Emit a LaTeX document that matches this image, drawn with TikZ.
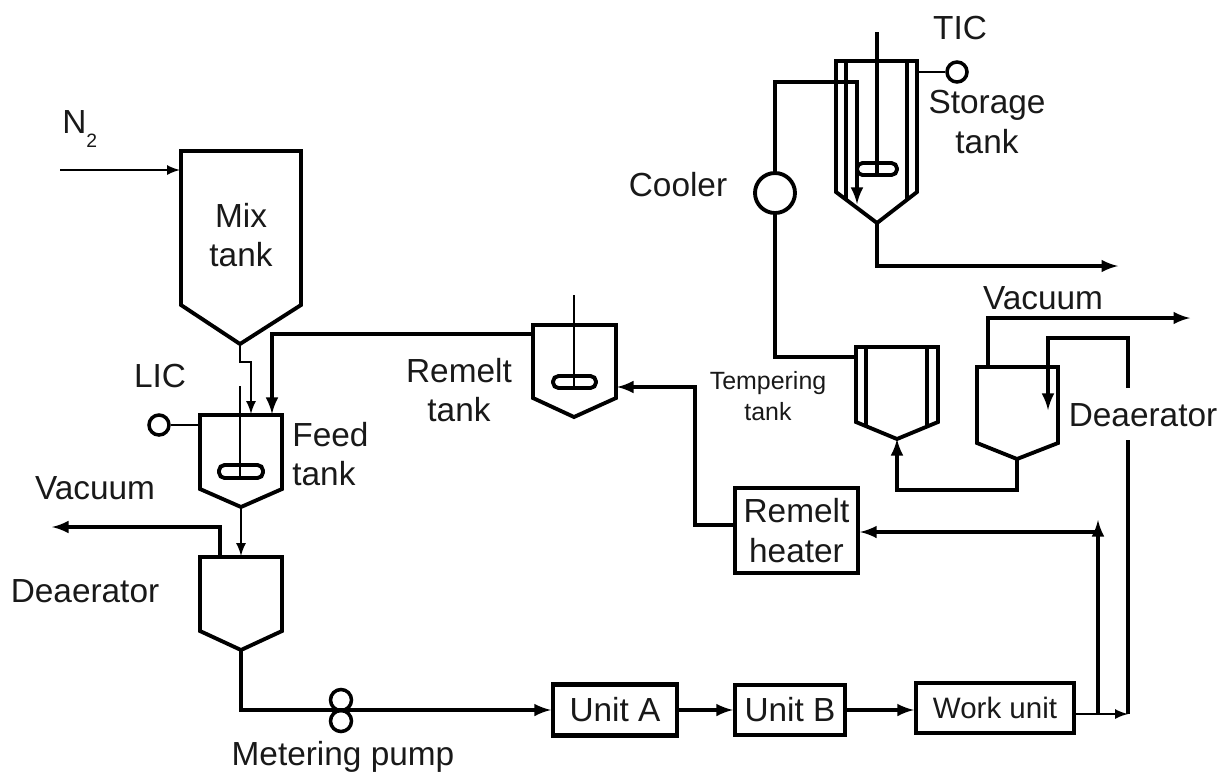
\documentclass[tikz,border=0pt]{standalone}
\usepackage{fontspec}
\setmainfont{Liberation Sans}
\usetikzlibrary{arrows,positioning,calc}
\tikzset{
	lbl/.style={font=\fontsize{19}{22.6}\selectfont, inner sep=0pt, text=black!90},
	vessel/.style={line width=2.2pt, line join=miter},
	pipe/.style={line width=2.2pt, line join=miter, >=latex},
	thinpipe/.style={line width=1.5pt, line join=miter, >=latex},
	unitbox/.style={draw, line width=2.4pt, inner sep=0pt, text=black!90, font=\fontsize{19}{22.6}\selectfont},
	gauge/.style={draw, circle, line width=2pt, inner sep=0pt, minimum size=0.4cm},
	paddle/.style={line width=2.2pt, rounded corners=0.11cm},
}
\begin{document}
\begin{tikzpicture}[x=0.02cm,y=-0.02cm]
	\useasboundingbox (0,0) rectangle (1230,775);

	% vessels
	\draw[vessel] (181,151) -- (301,151) -- (301,305) -- (240,344) -- (181,305) -- cycle;
	\draw[vessel] (200,415) -- (282,415) -- (282,489) -- (241,507) -- (200,489) -- cycle;
	\draw[vessel] (200,557) -- (282,557) -- (282,631) -- (241,650) -- (200,631) -- cycle;
	\draw[vessel] (533,325) -- (616,325) -- (616,398) -- (574,417) -- (533,398) -- cycle;
	\draw[vessel] (856,347) -- (938,347) -- (938,422) -- (897,439) -- (856,422) -- cycle;
	\draw[vessel] (977,367) -- (1058,367) -- (1058,443) -- (1017,459) -- (977,443) -- cycle;
	\draw[vessel] (836,61) -- (917,61) -- (917,192) -- (877,223) -- (836,192) -- cycle;
	% jackets
	\draw[vessel] (866,347) -- (866,426) (927,347) -- (927,426);
	\draw[vessel] (846,61) -- (846,199) (907,61) -- (907,199);
	% agitators
	\draw[thinpipe] (240,386) -- (240,478);
	\draw[paddle] (219,465) rectangle (263,478);
	\draw[thinpipe] (574,295) -- (574,388);
	\draw[paddle] (553,376) rectangle (596,388);
	\draw[pipe] (877,32) -- (877,175);
	\draw[paddle] (857,163) rectangle (897,175);

	% equipment
	\node[unitbox, minimum width=2.48cm, minimum height=1.02cm] (unita) at (615,710) {Unit A};
	\node[unitbox, minimum width=2.2cm, minimum height=1cm] (unitb) at (790,710) {Unit B};
	\node[unitbox, minimum width=3.16cm, minimum height=1cm, font=\fontsize{16.8}{20}\selectfont] (workunit) at (995,708) {Work unit};
	\node[unitbox, minimum width=2.46cm, minimum height=1.7cm, align=center] (heater) at (796.5,530.5) {Remelt\\[0.5pt]heater};
	\node[gauge] (lic) at (159,425) {};
	\node[gauge] (tic) at (957,72) {};
	\node[draw, circle, line width=2.2pt, inner sep=0pt, minimum size=0.8cm] (cooler) at (775,193) {};
	\node[gauge, minimum size=0.42cm] (pumpa) at (341,700) {};
	\node[gauge, minimum size=0.42cm] (pumpb) at (341,721) {};

	% connection points
	\coordinate (nin) at (60,170);
	\coordinate (mixin) at (180,170);
	\coordinate (mixout) at (240,344);
	\coordinate (feedin) at (251,414);
	\coordinate (feedret) at (272,414);
	\coordinate (feedout) at (241,507);
	\coordinate (deain) at (241,556);
	\coordinate (deatop) at (220,557);
	\coordinate (deaout) at (241,650);
	\coordinate (vacleft) at (52,527);
	\coordinate (remeltin) at (617,387);
	\coordinate (remeltout) at (533,334);
	\coordinate (workout) at (1075,714);
	\coordinate (split) at (1098,714);
	\coordinate (junction) at (1128,714);
	\coordinate (splittop) at (1098,520);
	\coordinate (bendtop) at (1098,532);
	\coordinate (linegap) at (1128,440);
	\coordinate (linetop) at (1128,388);
	\coordinate (dearetop) at (1128,338);
	\coordinate (dearin) at (1048,410);
	\coordinate (deartop) at (988,367);
	\coordinate (vacright) at (1190,318);
	\coordinate (dearout) at (1017,459);
	\coordinate (tempin) at (897,439);
	\coordinate (tempout) at (856,357);
	\coordinate (storbend) at (857,82);
	\coordinate (storin) at (857,204);
	\coordinate (storout) at (877,223);
	\coordinate (storend) at (1118,266);

	% pipes
	\draw[thinpipe,->] (nin) -- (mixin);
	\draw[thinpipe,->] (mixout) -- (240,362) -- (251,362) -- (feedin);
	\draw[pipe,->] (remeltout) -- (272,334) -- (feedret);
	\draw[thinpipe] (lic) -- (200,425);
	\draw[thinpipe,->] (feedout) -- (deain);
	\draw[pipe,->] (deatop) |- (vacleft);
	\draw[pipe,->] (deaout) |- (unita.west);
	\draw[pipe,->] (unita.east) -- (unitb.west);
	\draw[pipe,->] (unitb.east) -- (workunit.west |- unitb.east);
	\draw[thinpipe,->] (workout) -- (junction);
	\draw[pipe,->] (split) -- (splittop);
	\draw[pipe,->] (bendtop) -- (heater.east |- bendtop);
	\draw[pipe] (junction) -- (linegap);
	\draw[pipe,->] (linetop) -- (dearetop) -| (dearin);
	\draw[pipe,->] (deartop) |- (vacright);
	\draw[pipe,->] (dearout) -- (1017,490) -| (tempin);
	\draw[pipe] (tempout) -| (cooler.south);
	\draw[pipe,->] (cooler.north) |- (storbend) -- (storin);
	\draw[thinpipe] (tic) -- (917,72);
	\draw[pipe,->] (storout) |- (storend);
	\draw[pipe,->] (heater.west |- 0,525) -| (695,387) -- (remeltin);

	% labels
	\node[lbl, anchor=base west] (ntwo) at (62,133) {N\raisebox{-8pt}{\fontsize{11}{12}\selectfont 2}};
	\node[lbl, align=center] (mixlabel) at (241,235) {Mix\\tank};
	\node[lbl] (liclabel) at (160,376) {LIC};
	\node[lbl, anchor=west, align=left] (feedlabel) at (292,454) {Feed\\tank};
	\node[lbl] (vacalabel) at (95,488) {Vacuum};
	\node[lbl] (deaalabel) at (85,591) {Deaerator};
	\node[lbl] (pumplabel) at (343,757) {Metering pump};
	\node[lbl, align=center] (remeltlabel) at (459,390) {Remelt\\tank};
	\node[lbl, align=center, font=\fontsize{14.2}{17}\selectfont] (templabel) at (768,396) {Tempering\\[1pt]tank};
	\node[lbl] (coolerlabel) at (678,185) {Cooler};
	\node[lbl, align=center] (storlabel) at (987,122) {Storage\\tank};
	\node[lbl] (ticlabel) at (960,28) {TIC};
	\node[lbl] (vacblabel) at (1043,298) {Vacuum};
	\node[lbl] (deablabel) at (1143,415) {Deaerator};
\end{tikzpicture}
\end{document}
